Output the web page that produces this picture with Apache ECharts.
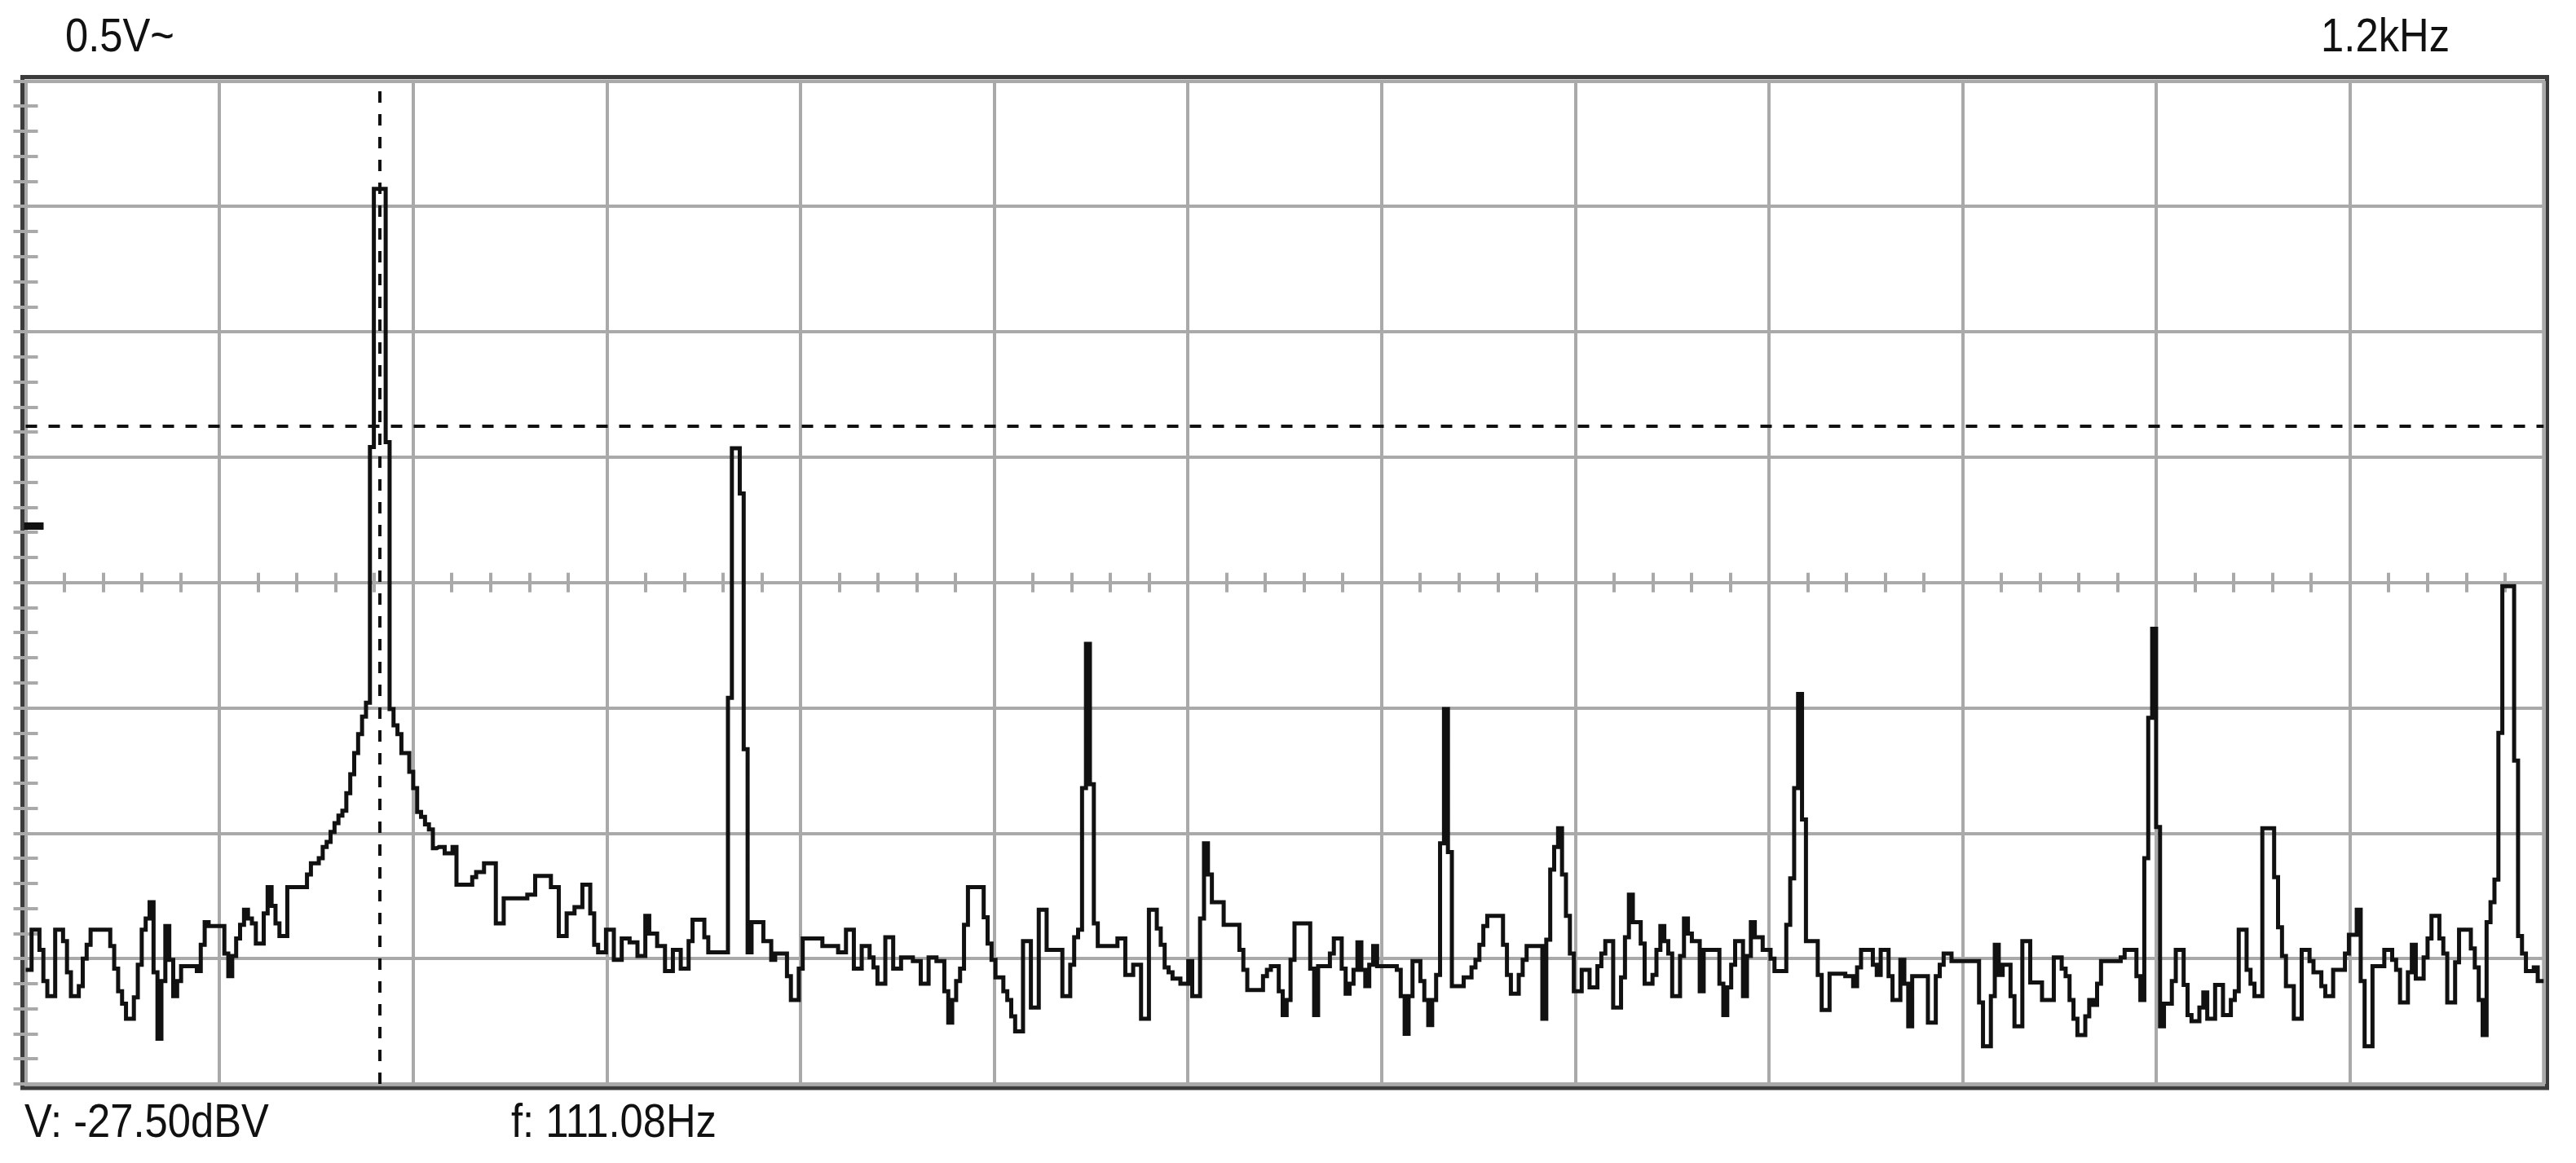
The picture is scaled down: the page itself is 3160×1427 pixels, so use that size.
<!DOCTYPE html>
<html>
<head>
<meta charset="utf-8">
<title>FFT spectrum</title>
<script src="https://cdn.jsdelivr.net/npm/echarts@6/dist/echarts.min.js"></script>
<style>
  html, body { margin: 0; padding: 0; background: #fff; }
  #chart { width: 3160px; height: 1427px; }
</style>
</head>
<body>
<div id="chart"></div>
<script>
// analyser screen: 13 divisions across, 8 divisions of 10 dB down
const SPAN_HZ = 790
const BIN_COUNT = 640
const DB_MIN = -80
const DB_MAX = 0
const DB_STEP = 10
const X_DIVS = 13

// cursors and the reference marker on the left edge
const cursorFreq = 111.08
const cursorLevel = -27.5
const refLevel = -35.5

// readouts printed round the screen
const topLabels = ['0.5V~', '1.2kHz']
const bottomLabels = ['V: -27.50dBV', 'f: 111.08Hz']

// level of each FFT bin (dBV)
const levels = [
  -70.9, -70.9, -67.7, -67.7, -69.3, -71.8, -73.0, -73.0, -67.7, -67.7,
  -68.6, -71.1, -73.0, -73.0, -72.2, -70.0, -68.9, -67.7, -67.7, -67.7,
  -67.7, -67.7, -69.0, -70.8, -72.6, -73.6, -74.8, -74.8, -73.1, -70.5,
  -67.7, -66.8, -65.5, -71.1, -76.4, -71.8, -67.4, -70.1, -73.0, -71.8,
  -70.6, -70.6, -70.6, -70.6, -71.0, -68.9, -67.1, -67.4, -67.4, -67.4,
  -67.4, -69.6, -71.4, -69.8, -68.4, -67.3, -66.1, -66.8, -67.2, -68.8,
  -68.8, -66.4, -64.3, -65.8, -67.2, -68.2, -68.2, -64.3, -64.3, -64.3,
  -64.3, -64.3, -63.3, -62.4, -62.4, -62.0, -61.1, -60.7, -59.9, -59.2,
  -58.6, -58.2, -56.8, -55.3, -53.6, -52.1, -50.7, -49.6, -29.2, -8.6,
  -8.6, -8.6, -28.8, -50.1, -51.4, -52.1, -53.6, -53.6, -55.1, -56.4,
  -58.3, -58.7, -59.3, -59.7, -61.2, -61.1, -61.1, -61.6, -61.6, -61.1,
  -64.1, -64.1, -64.1, -64.1, -63.5, -63.1, -63.1, -62.4, -62.4, -62.4,
  -67.2, -67.2, -65.2, -65.2, -65.2, -65.2, -65.2, -65.2, -64.9, -64.9,
  -63.4, -63.4, -63.4, -63.4, -64.3, -64.3, -68.2, -68.2, -66.4, -66.4,
  -65.9, -65.9, -64.1, -64.1, -66.4, -68.9, -69.5, -69.5, -67.7, -67.7,
  -70.1, -70.1, -68.4, -68.4, -68.7, -68.7, -69.8, -69.8, -66.6, -68.0,
  -68.0, -69.0, -69.0, -71.0, -71.0, -69.3, -69.3, -70.8, -70.8, -68.6,
  -66.9, -66.9, -66.9, -68.3, -69.5, -69.5, -69.5, -69.5, -69.5, -49.2,
  -29.3, -29.3, -32.9, -53.3, -69.5, -67.1, -67.1, -67.1, -68.6, -68.6,
  -70.1, -69.6, -69.6, -69.6, -71.4, -73.3, -73.3, -70.8, -68.4, -68.4,
  -68.4, -68.4, -68.4, -69.0, -69.0, -69.0, -69.0, -69.5, -69.5, -67.7,
  -67.7, -70.8, -70.8, -69.0, -69.0, -69.9, -70.7, -72.0, -72.0, -68.3,
  -68.3, -70.8, -70.8, -69.9, -69.9, -69.9, -70.2, -70.2, -72.0, -72.0,
  -69.9, -69.9, -70.2, -70.2, -72.6, -75.1, -73.3, -71.8, -70.8, -67.3,
  -64.3, -64.3, -64.3, -64.3, -66.7, -68.8, -70.1, -71.5, -71.5, -72.6,
  -73.3, -74.6, -75.8, -75.8, -68.6, -68.6, -73.9, -73.9, -66.1, -66.1,
  -69.3, -69.3, -69.3, -69.3, -73.0, -73.0, -70.5, -68.3, -67.7, -56.4,
  -44.9, -56.1, -67.2, -69.0, -69.0, -69.0, -69.0, -69.0, -68.4, -68.4,
  -71.3, -71.3, -70.5, -70.5, -74.8, -74.8, -66.1, -66.1, -67.6, -68.9,
  -70.7, -71.1, -71.6, -71.6, -72.0, -72.0, -70.2, -73.0, -73.0, -66.8,
  -60.8, -63.3, -65.5, -65.5, -65.5, -67.3, -67.3, -67.3, -67.3, -69.3,
  -70.9, -72.5, -72.5, -72.5, -72.5, -71.4, -70.9, -70.6, -70.6, -72.6,
  -74.5, -73.3, -70.1, -67.2, -67.2, -67.2, -67.2, -70.8, -74.5, -70.6,
  -70.6, -70.6, -69.6, -68.4, -68.4, -70.8, -72.8, -72.0, -70.9, -68.7,
  -70.9, -72.2, -70.5, -69.0, -70.6, -70.6, -70.6, -70.6, -70.6, -70.9,
  -73.0, -76.0, -73.0, -70.2, -70.2, -71.8, -73.3, -75.3, -73.3, -71.3,
  -60.8, -50.1, -61.5, -72.2, -72.2, -72.2, -71.5, -71.5, -70.7, -70.1,
  -68.9, -67.4, -66.6, -66.6, -66.6, -66.6, -68.9, -71.3, -72.8, -72.8,
  -71.3, -70.1, -69.0, -69.0, -69.0, -69.0, -74.8, -68.5, -62.9, -61.1,
  -59.6, -63.3, -66.6, -69.6, -72.6, -72.6, -70.9, -70.9, -72.3, -72.3,
  -70.6, -69.6, -68.6, -68.6, -73.9, -73.9, -71.5, -68.3, -64.9, -67.1,
  -67.1, -68.8, -72.0, -72.0, -71.3, -69.3, -67.4, -68.6, -69.6, -73.0,
  -73.0, -69.8, -66.8, -68.0, -68.6, -68.6, -72.6, -69.3, -69.3, -69.3,
  -69.3, -72.0, -74.5, -72.3, -70.5, -68.6, -68.6, -73.0, -69.8, -67.1,
  -68.3, -68.3, -69.3, -69.3, -70.0, -71.0, -71.0, -71.0, -67.3, -63.6,
  -56.4, -48.9, -58.9, -68.6, -68.6, -68.6, -71.3, -74.1, -74.1, -71.2,
  -71.2, -71.2, -71.2, -71.4, -71.4, -72.2, -70.7, -69.3, -69.3, -69.3,
  -70.5, -71.3, -69.3, -69.3, -71.4, -73.3, -73.3, -70.1, -72.0, -75.4,
  -71.4, -71.4, -71.4, -71.4, -75.1, -75.1, -71.4, -70.5, -69.6, -69.6,
  -70.2, -70.2, -70.2, -70.2, -70.2, -70.2, -70.2, -73.5, -77.0, -77.0,
  -73.0, -68.9, -71.3, -70.5, -70.5, -73.0, -75.4, -75.4, -68.6, -68.6,
  -71.9, -71.9, -71.9, -73.3, -73.3, -73.3, -69.9, -69.9, -70.8, -71.4,
  -73.3, -74.8, -76.1, -76.1, -74.6, -73.3, -73.7, -72.0, -70.2, -70.2,
  -70.2, -70.2, -70.2, -69.9, -69.3, -69.3, -69.3, -71.4, -73.3, -62.0,
  -50.8, -43.7, -59.5, -75.4, -73.6, -73.6, -71.8, -69.3, -69.3, -72.1,
  -74.5, -75.0, -75.0, -73.9, -72.7, -74.8, -74.8, -72.1, -72.1, -74.5,
  -74.5, -73.3, -72.6, -67.7, -67.7, -70.9, -72.0, -73.0, -73.0, -59.6,
  -59.6, -59.6, -63.5, -67.5, -69.8, -72.2, -72.2, -74.8, -74.8, -69.3,
  -69.3, -70.2, -71.1, -71.1, -72.2, -73.0, -73.0, -70.9, -70.9, -70.9,
  -69.6, -68.1, -68.1, -66.1, -71.8, -77.0, -77.0, -70.6, -70.6, -70.6,
  -69.3, -69.3, -70.1, -70.9, -73.5, -73.5, -71.1, -68.9, -71.6, -71.6,
  -69.9, -68.4, -66.6, -66.6, -68.4, -69.6, -73.5, -73.5, -70.3, -67.7,
  -67.7, -67.7, -69.2, -70.7, -73.3, -76.1, -67.1, -65.5, -63.7, -52.0,
  -40.3, -40.3, -40.3, -54.2, -68.2, -69.6, -71.0, -71.0, -70.7, -71.8,
  -71.8
]

const GRID_GREY = '#a9a9a9'
const INK = '#111111'
const FONT = '57px "Liberation Sans", Arial, sans-serif'
const TEXT_SQUEEZE = 0.89

const binHz = SPAN_HZ / BIN_COUNT
const spectrum = levels.map((v, i) => [i * binHz, v])

const chart = echarts.init(document.getElementById('chart'))

const hidden = { show: false }
const tickStyle = { color: GRID_GREY, width: 4 }

const label = (text, x, y, align) => ({
  type: 'text', x, y, scaleX: TEXT_SQUEEZE,
  style: { text, font: FONT, fill: INK, align, verticalAlign: 'middle' }
})

chart.setOption({
  animation: false,
  backgroundColor: '#ffffff',
  grid: [
    // screen area
    { left: 31.5, top: 99.4, width: 3088.8, height: 1230.6, show: true,
      borderColor: GRID_GREY, borderWidth: 4, backgroundColor: 'transparent' },
    // dark bezel round it
    { left: 27.5, top: 94.5, width: 3097, height: 1240.5, show: true,
      borderColor: '#3b3b3b', borderWidth: 5, backgroundColor: 'transparent' }
  ],
  xAxis: [
    { gridIndex: 0, type: 'value', min: 0, max: SPAN_HZ, interval: SPAN_HZ / X_DIVS,
      axisLine: hidden, axisTick: hidden, axisLabel: hidden,
      splitLine: { show: true, lineStyle: tickStyle } },
    // small ticks on the centre line, upper half
    { gridIndex: 0, type: 'value', min: 0, max: SPAN_HZ, interval: SPAN_HZ / X_DIVS,
      position: 'bottom', offset: -615.3,
      axisLine: hidden, axisLabel: hidden, splitLine: hidden,
      axisTick: { show: true, inside: true, length: 12, lineStyle: tickStyle },
      minorTick: { show: true, splitNumber: 5, length: 12, lineStyle: tickStyle } },
    // lower half
    { gridIndex: 0, type: 'value', min: 0, max: SPAN_HZ, interval: SPAN_HZ / X_DIVS,
      position: 'top', offset: -615.3,
      axisLine: hidden, axisLabel: hidden, splitLine: hidden,
      axisTick: { show: true, inside: true, length: 12, lineStyle: tickStyle },
      minorTick: { show: true, splitNumber: 5, length: 12, lineStyle: tickStyle } },
    { gridIndex: 1, type: 'value', min: 0, max: 1, show: false }
  ],
  yAxis: [
    { gridIndex: 0, type: 'value', min: DB_MIN, max: DB_MAX, interval: DB_STEP,
      position: 'left',
      axisLine: hidden, axisLabel: hidden,
      splitLine: { show: true, lineStyle: tickStyle },
      axisTick: { show: true, inside: true, length: 15, lineStyle: tickStyle },
      minorTick: { show: true, splitNumber: 5, length: 15, lineStyle: tickStyle } },
    { gridIndex: 0, type: 'value', min: DB_MIN, max: DB_MAX, interval: DB_STEP,
      position: 'right',
      axisLine: hidden, axisLabel: hidden, splitLine: hidden,
      axisTick: { show: true, inside: true, length: 15, lineStyle: tickStyle },
      minorTick: { show: true, splitNumber: 5, length: 15, lineStyle: tickStyle } },
    { gridIndex: 1, type: 'value', min: 0, max: 1, show: false }
  ],
  series: [{
    type: 'line',
    xAxisIndex: 0,
    yAxisIndex: 0,
    data: spectrum,
    step: 'middle',
    showSymbol: false,
    symbol: 'none',
    silent: true,
    lineStyle: { color: INK, width: 5, join: 'miter' },
    markLine: {
      silent: true,
      symbol: 'none',
      label: { show: false },
      lineStyle: { color: INK, width: 4, type: [14, 14] },
      data: [{ xAxis: cursorFreq }, { yAxis: cursorLevel }]
    },
    markPoint: {
      silent: true,
      label: { show: false },
      data: [{
        coord: [0, refLevel], symbol: 'rect', symbolSize: [24, 9],
        symbolOffset: [10, 0], itemStyle: { color: INK }
      }]
    }
  }],
  graphic: [
    label(topLabels[0], 80, 47, 'left'),
    label(topLabels[1], 3005, 47, 'right'),
    label(bottomLabels[0], 30, 1379, 'left'),
    label(bottomLabels[1], 627, 1379, 'left')
  ]
})
</script>
</body>
</html>
